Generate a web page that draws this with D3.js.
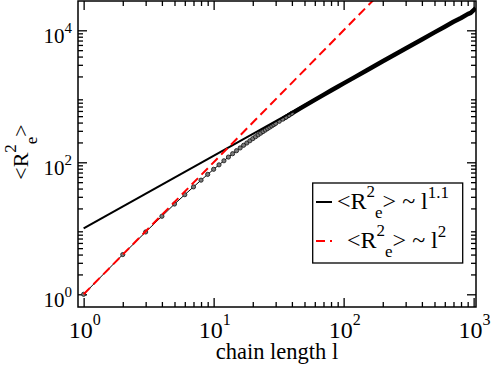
<!DOCTYPE html>
<html>
<head>
<meta charset="utf-8">
<script src="https://d3js.org/d3.v7.min.js"></script>
<style>
    body { margin: 0; background: #fff; }
    .axis path { stroke: none; }
    .axis line { stroke: #000; stroke-width: 1.3px; }
</style>
</head>
<body>
<svg width="491" height="365"></svg>
<script>
    // data
    const chainLength = [1, 2, 3, 4, 5, 6, 7, 8, 9, 10, 11, 12, 13, 14, 15,
        16, 17, 18, 19, 20, 21, 22, 23, 24, 25, 26, 27, 28, 29, 30,
        32, 34, 36, 38, 40];
    const r2e = [1.0, 4.0, 8.8, 15.2, 23.3, 32.3, 42.4, 53.6, 65.6, 78.3, 91.5, 105.5, 120, 135, 150,
        165, 181, 196, 212, 228, 244, 260, 276, 292, 308, 324, 340, 356, 372, 388,
        418, 450, 482, 516, 552];
    // long chains: markers overlap into a solid band
    const tailLength = [34, 40, 45, 50, 60, 70, 80, 90, 100, 120, 150, 200, 250, 300,
        400, 500, 600, 700, 800, 900, 950, 1000, 1040];
    const tailR2e = [450, 552, 634, 716, 884, 1052, 1222, 1394, 1568, 1920, 2460, 3390, 4335, 5300,
        7270, 9300, 11350, 13450, 15400, 17600, 18400, 20200, 21600];
    // fit lines (end points)
    const fit11L = [1, 1000], fit11R = [10, 19953];
    const fit2L = [1, 1000], fit2R = [1, 1e6];

    const xMajor = [1, 10, 100, 1000], xExp = ["0", "1", "2", "3"];
    const yMajor = [1, 100, 10000], yExp = ["0", "2", "4"];

    const serif = "'Liberation Serif', 'Times New Roman', Times, serif";

    const pLeft = 78, pRight = 476, pTop = 1, pBottom = 307;

    const x = d3.scaleLog().domain([0.905, 1043]).range([pLeft, pRight]);
    const y = d3.scaleLog().domain([0.642, 27800]).range([pBottom, pTop]);

    const svg = d3.select("svg").attr("font-family", serif);

    svg.append("defs").append("clipPath").attr("id", "clip")
        .append("rect").attr("x", pLeft).attr("y", pTop)
        .attr("width", pRight - pLeft).attr("height", pBottom - pTop);

    const minorOf = (lo, hi) => {
        const out = [];
        for (let p = lo; p < hi; p *= 10)
            for (let k = 2; k <= 9; k++) out.push(p * k);
        return out;
    };
    const xMinor = minorOf(1, 1000).filter(v => v <= 1043);
    const yMinor = minorOf(1, 10000).filter(v => v <= 27800);

    // ticks on all four sides, pointing inward
    const addAxis = (axisFn, scale, vals, size, tr) => {
        svg.append("g").attr("class", "axis")
            .attr("transform", tr)
            .call(axisFn(scale).tickValues(vals).tickSize(size).tickFormat(""));
    };
    addAxis(d3.axisBottom, x, xMajor, -9, `translate(0,${pBottom})`);
    addAxis(d3.axisBottom, x, xMinor, -5, `translate(0,${pBottom})`);
    addAxis(d3.axisTop, x, xMajor, -9, `translate(0,${pTop})`);
    addAxis(d3.axisTop, x, xMinor, -5, `translate(0,${pTop})`);
    addAxis(d3.axisLeft, y, yMajor, -9, `translate(${pLeft},0)`);
    addAxis(d3.axisLeft, y, yMinor, -5, `translate(${pLeft},0)`);
    addAxis(d3.axisRight, y, yMajor, -9, `translate(${pRight},0)`);
    addAxis(d3.axisRight, y, yMinor, -5, `translate(${pRight},0)`);

    const plot = svg.append("g").attr("clip-path", "url(#clip)");

    const line = d3.line().x(d => x(d[0])).y(d => y(d[1]));

    // simulation data
    const pts = chainLength.map((l, i) => [l, r2e[i]]);
    const tail = tailLength.map((l, i) => [l, tailR2e[i]]);

    plot.append("path")
        .attr("d", line(pts))
        .attr("fill", "none").attr("stroke", "#000").attr("stroke-width", 1);

    plot.append("path")
        .attr("d", line(tail))
        .attr("fill", "none").attr("stroke", "#000").attr("stroke-width", 4.5)
        .attr("stroke-linejoin", "round");

    plot.selectAll(".dot")
        .data(pts)
        .enter().append("circle")
        .attr("class", "dot")
        .attr("cx", d => x(d[0]))
        .attr("cy", d => y(d[1]))
        .attr("r", 2.1)
        .attr("fill", "#7a7a7a")
        .attr("stroke", "#111")
        .attr("stroke-width", 0.8);

    // fits
    plot.append("path")
        .attr("d", line(fit11L.map((l, i) => [l, fit11R[i]])))
        .attr("fill", "none").attr("stroke", "#000").attr("stroke-width", 2);

    plot.append("path")
        .attr("d", line(fit2L.map((l, i) => [l, fit2R[i]])))
        .attr("fill", "none").attr("stroke", "#ff0000").attr("stroke-width", 2)
        .attr("stroke-dasharray", "9,5");

    // frame
    svg.append("rect")
        .attr("x", pLeft).attr("y", pTop)
        .attr("width", pRight - pLeft).attr("height", pBottom - pTop)
        .attr("fill", "none").attr("stroke", "#000").attr("stroke-width", 1.5);

    // tick labels
    xMajor.forEach((v, i) => {
        const t = svg.append("text")
            .attr("x", x(v) + 1).attr("y", 338)
            .attr("text-anchor", "middle")
            .style("font-size", "24px");
        t.append("tspan").text("10");
        t.append("tspan").attr("dy", -13).style("font-size", "16px").text(xExp[i]);
    });

    yMajor.forEach((v, i) => {
        const t = svg.append("text")
            .attr("x", 72).attr("y", y(v) + 13)
            .attr("text-anchor", "end")
            .style("font-size", "21px");
        t.append("tspan").text("10");
        t.append("tspan").attr("dy", -10).style("font-size", "15px").text(yExp[i]);
    });

    // axis titles
    svg.append("text")
        .attr("x", 277).attr("y", 359)
        .attr("text-anchor", "middle")
        .style("font-size", "22.5px")
        .text("chain length l");

    const yt = svg.append("text")
        .attr("transform", "translate(28,152) rotate(-90)")
        .attr("text-anchor", "middle")
        .style("font-size", "22px");
    yt.append("tspan").text("<R");
    yt.append("tspan").attr("dy", -12).style("font-size", "17px").text("2");
    yt.append("tspan").attr("dy", 21).style("font-size", "17px").text("e");
    yt.append("tspan").attr("dy", -9).text(">");

    // legend
    const lg = svg.append("g");
    lg.append("rect")
        .attr("x", 312.7).attr("y", 183)
        .attr("width", 150).attr("height", 80)
        .attr("fill", "#fff").attr("stroke", "#000").attr("stroke-width", 1.3);

    const entries = [
        {color: "#000", dash: null, lx: 337, ly: 209, exp: "1.1"},
        {color: "#ff0000", dash: "9,5", lx: 347, ly: 248, exp: "2"}
    ];
    entries.forEach(e => {
        lg.append("line")
            .attr("x1", 316).attr("x2", 332)
            .attr("y1", e.ly - 7).attr("y2", e.ly - 7)
            .attr("stroke", e.color).attr("stroke-width", 2)
            .attr("stroke-dasharray", e.dash);
        const t = lg.append("text")
            .attr("x", e.lx).attr("y", e.ly)
            .style("font-size", "24px");
        t.append("tspan").text("<R");
        t.append("tspan").attr("dy", -12).style("font-size", "17px").text("2");
        t.append("tspan").attr("dy", 21).style("font-size", "17px").text("e");
        t.append("tspan").attr("dy", -9).text("> ~ l");
        t.append("tspan").attr("dy", -11).style("font-size", "17px").text(e.exp);
    });
</script>
</body>
</html>
